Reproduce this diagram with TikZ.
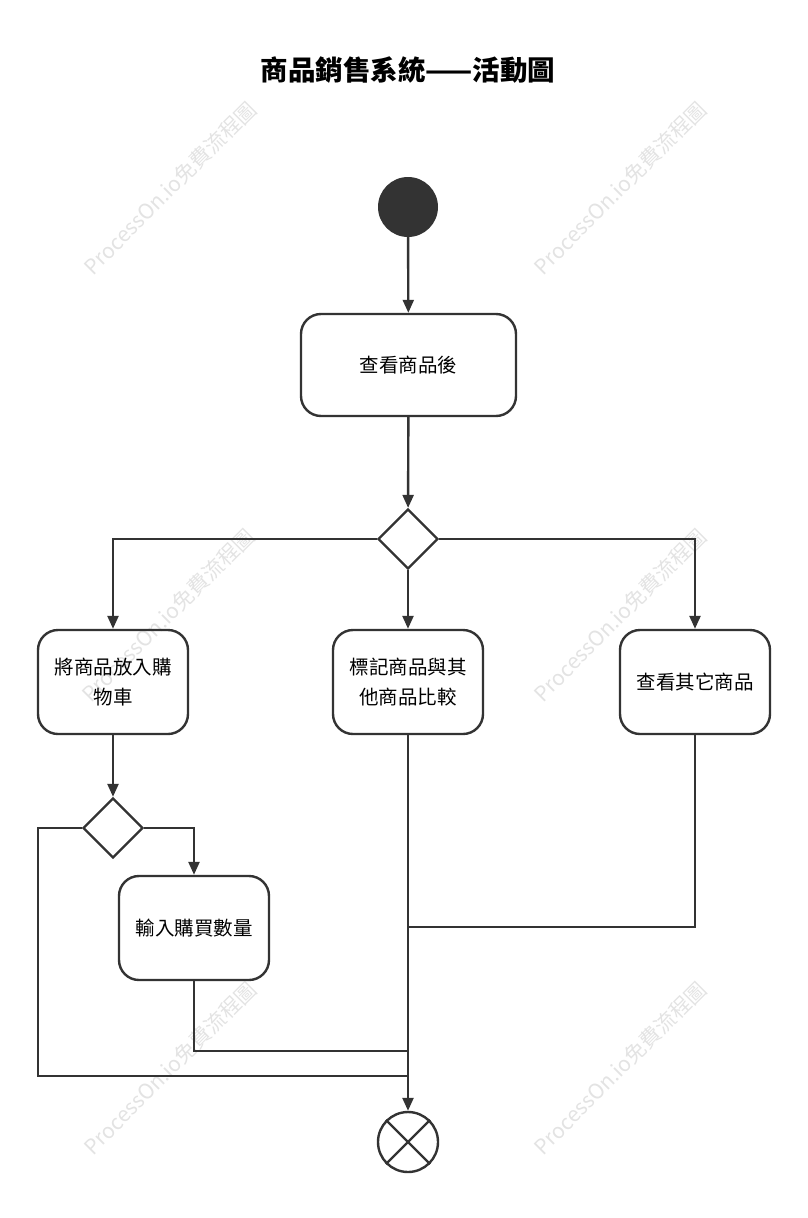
\documentclass[tikz,border=0pt]{standalone}
\usepackage{fontspec}
\newfontfamily\cjk{Noto Sans CJK TC}
\usetikzlibrary{arrows.meta,shapes.geometric}
\definecolor{ln}{HTML}{333333}
\begin{document}
\begin{tikzpicture}[x=1pt,y=-1pt,
  line/.style={draw=ln,line width=2.4pt},
  arr/.style={line,-{Triangle[length=13pt,width=11pt]}},
  box/.style={line,rounded corners=20pt,minimum width=150pt,minimum height=104pt,align=center,font=\cjk\fontsize{19.5}{30}\selectfont,inner sep=0pt},
  dia/.style={line,diamond,minimum width=60pt,minimum height=60pt,inner sep=0pt},
  wm/.style={rotate=45,text=gray!22,font=\cjk\fontsize{21}{21}\selectfont}]
\useasboundingbox (0,0) rectangle (807,1218);
\foreach \x/\y in {170/188,620/188,168/615,620/615,170/1068,620/1068}
  \node[wm] (w\x\y) at (\x,\y) {ProcessOn.io免費流程圖};
\node[font=\cjk\bfseries\fontsize{27.5}{28}\selectfont] (title) at (408,70) {商品銷售系統——活動圖};
\node[circle,fill=ln,minimum size=60pt,inner sep=0pt] (start) at (408,207) {};
\node[box,minimum width=215pt,minimum height=102pt] (b1) at (408.5,365) {查看商品後};
\node[dia] (d1) at (408,539) {};
\node[box] (b2) at (113,682) {將商品放入購\\物車};
\node[box] (b3) at (408,682) {標記商品與其\\他商品比較};
\node[box] (b4) at (695,682) {查看其它商品};
\node[dia] (d2) at (113,828) {};
\node[box] (b5) at (194,928) {輸入購買數量};
\node[circle,line,minimum size=60pt,inner sep=0pt] (end) at (408,1142) {};
\draw[line] (end.north west) -- (end.south east) (end.north east) -- (end.south west);
\coordinate (j1) at (408,927);
\coordinate (j2) at (408,1051);
\coordinate (j3) at (408,1076);
\draw[arr] (start) -- (b1);
\draw[arr] (b1) -- (d1);
\draw[arr] (d1.west) -| (b2.north);
\draw[arr] (d1) -- (b3);
\draw[arr] (d1.east) -| (b4.north);
\draw[arr] (b2) -- (d2);
\draw[arr] (d2.east) -| (b5.north);
\draw[line] (d2.west) -- (38,828) |- (j3);
\draw[line] (b5.south) |- (j2);
\draw[line] (b4.south) |- (j1);
\draw[arr] (b3) -- (end);
\end{tikzpicture}
\end{document}
